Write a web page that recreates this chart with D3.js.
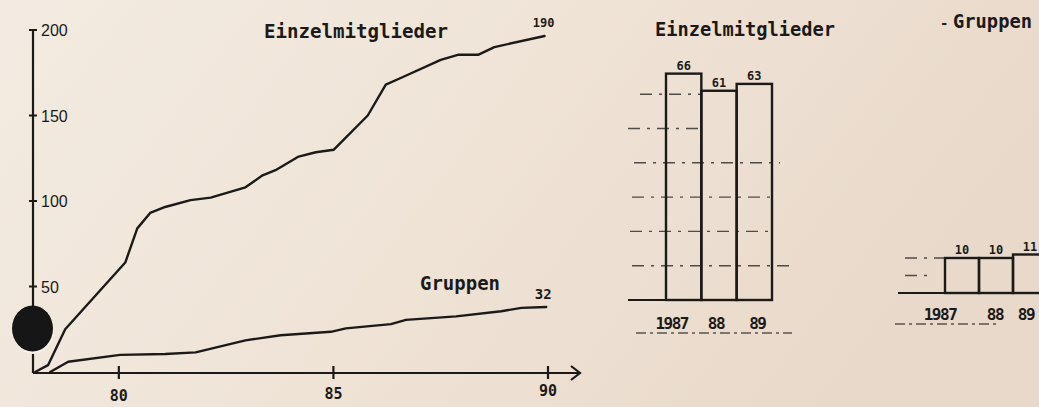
<!DOCTYPE html>
<html>
<head>
<meta charset="utf-8">
<script src="https://cdn.jsdelivr.net/npm/d3@7"></script>
<style>
  html, body { margin: 0; padding: 0; overflow: hidden; }
  svg { display: block; }
</style>
</head>
<body>
<svg id="chart"></svg>
<script>
// ---------------- data ----------------
// line chart, x in years (78..90), y = members
var einzelYear = [78.05, 78.35, 78.75, 80.15, 80.43, 80.73, 81.08, 81.67, 82.14, 82.95, 83.35, 83.65, 84.19, 84.59, 85.01, 85.8, 86.22, 86.62, 87.5, 87.9, 88.37, 88.75, 89.92];
var einzelVal  = [0, 4, 25, 64, 84, 93, 96.5, 100.5, 102, 108, 115, 118, 126, 128.5, 130, 150, 168, 172.5, 182.5, 185.5, 185.5, 190, 196.5];
var gruppenYear = [78.4, 78.82, 80.03, 81.08, 81.79, 82.95, 83.77, 84.94, 85.29, 86.34, 86.69, 87.86, 88.91, 89.38, 89.96];
var gruppenVal  = [0, 6, 10, 10.5, 11.5, 18.5, 21.5, 23.5, 25.5, 28, 30.5, 32.5, 35.5, 37.5, 38];
var yTicks = [50, 100, 150, 200];
var xTicks = [80, 85, 90];
var xTickLabels = ["80", "85", "90"];
var endLabelEinzel = "190";
var endLabelGruppen = "32";

// bar charts
var barYears = ["1987", "88", "89"];
var barEinzel = [66, 61, 63];
var barGruppen = [10, 10, 11];
var gridEinzel = [10, 20, 30, 40, 50, 60];
var gridGruppen = [5, 10];

// ---------------- setup ----------------
var W = 1039, H = 407;
var ink = "#1b1a19";
var mono = "'DejaVu Sans Mono', 'Liberation Mono', monospace";

var svg = d3.select("#chart").attr("width", W).attr("height", H);

// paper
var defs = svg.append("defs");
var grad = defs.append("linearGradient").attr("id", "paper")
  .attr("x1", 0).attr("y1", 0).attr("x2", 1).attr("y2", 0.3);
grad.append("stop").attr("offset", "0%").attr("stop-color", "#f3ebe1");
grad.append("stop").attr("offset", "55%").attr("stop-color", "#efe3d6");
grad.append("stop").attr("offset", "100%").attr("stop-color", "#e9d9ca");
svg.append("rect").attr("width", W).attr("height", H).attr("fill", "url(#paper)");

//**************************************** line chart
var x = d3.scaleLinear().domain([78, 90]).range([33, 548]);
var y = d3.scaleLinear().domain([0, 200]).range([372, 30]);

var lc = svg.append("g").attr("class", "linechart");

// y axis (hand drawn style)
lc.append("line")
  .attr("x1", x(78)).attr("x2", x(78))
  .attr("y1", y(200) - 1).attr("y2", y(0) + 1)
  .attr("stroke", ink).attr("stroke-width", 2.2);
lc.selectAll(".ytick").data(yTicks).enter().append("line")
  .attr("x1", x(78) - 4).attr("x2", x(78) + 4)
  .attr("y1", d => y(d)).attr("y2", d => y(d))
  .attr("stroke", ink).attr("stroke-width", 2);
lc.selectAll(".ylab").data(yTicks).enter().append("text")
  .attr("x", x(78) + 8).attr("y", d => y(d) + 6)
  .text(d => d)
  .attr("fill", ink)
  .style("font-family", "'Liberation Sans', Arial, sans-serif")
  .style("font-size", "16px");

// x axis with arrow
lc.append("line")
  .attr("x1", x(78)).attr("x2", 579)
  .attr("y1", y(0) + 1).attr("y2", y(0) + 1)
  .attr("stroke", ink).attr("stroke-width", 2.2);
lc.append("path")
  .attr("d", `M571,${y(0) - 6} L580,${y(0) + 1} L571,${y(0) + 8}`)
  .attr("fill", "none").attr("stroke", ink).attr("stroke-width", 2.2);
lc.selectAll(".xtick").data(xTicks).enter().append("line")
  .attr("x1", d => x(d)).attr("x2", d => x(d))
  .attr("y1", y(0) - 6).attr("y2", y(0) + 7)
  .attr("stroke", ink).attr("stroke-width", 2.2);
lc.selectAll(".xlab").data(xTicks).enter().append("text")
  .attr("x", d => x(d)).attr("y", (d, i) => [401, 399, 396][i])
  .attr("text-anchor", "middle")
  .text((d, i) => xTickLabels[i])
  .attr("fill", ink)
  .style("font-family", mono)
  .style("font-weight", "bold")
  .style("font-size", "15px");

// curves
var line = d3.line().x(d => x(d[0])).y(d => y(d[1]));
var einzelPts = einzelYear.map((d, i) => [d, einzelVal[i]]);
var gruppenPts = gruppenYear.map((d, i) => [d, gruppenVal[i]]);
lc.append("path").attr("d", line(einzelPts))
  .attr("fill", "none").attr("stroke", ink).attr("stroke-width", 2.4)
  .attr("stroke-linejoin", "round").attr("stroke-linecap", "round");
lc.append("path").attr("d", line(gruppenPts))
  .attr("fill", "none").attr("stroke", ink).attr("stroke-width", 2.4)
  .attr("stroke-linejoin", "round").attr("stroke-linecap", "round");

// labels
lc.append("text").attr("x", 264).attr("y", 38)
  .text("Einzelmitglieder")
  .attr("textLength", 184).attr("lengthAdjust", "spacingAndGlyphs")
  .attr("fill", ink)
  .style("font-family", mono).style("font-weight", "bold").style("font-size", "19px");
lc.append("text").attr("x", 420).attr("y", 290)
  .text("Gruppen")
  .attr("textLength", 80).attr("lengthAdjust", "spacingAndGlyphs")
  .attr("fill", ink)
  .style("font-family", mono).style("font-weight", "bold").style("font-size", "19px");
lc.append("text").attr("x", x(einzelYear[einzelYear.length - 1]) - 1).attr("y", 27)
  .attr("text-anchor", "middle")
  .text(endLabelEinzel)
  .attr("fill", ink)
  .style("font-family", mono).style("font-weight", "bold").style("font-size", "12px");
lc.append("text").attr("x", x(gruppenYear[gruppenYear.length - 1]) - 3).attr("y", 299)
  .attr("text-anchor", "middle")
  .text(endLabelGruppen)
  .attr("fill", ink)
  .style("font-family", mono).style("font-weight", "bold").style("font-size", "14px");

// punched hole
lc.append("ellipse").attr("cx", 33).attr("cy", 330).attr("rx", 21).attr("ry", 24)
  .attr("fill", "#f6f1e8");
lc.append("ellipse").attr("cx", 32.5).attr("cy", 328.5).attr("rx", 20.5).attr("ry", 23)
  .attr("fill", "#161616");

//**************************************** bar chart helper
function barChart(opts) {
  var g = svg.append("g");
  var xb = d3.scaleBand().domain(barYears).range(opts.xRange).padding(0);
  var yb = d3.scaleLinear().domain([0, 10]).range([opts.y0, opts.y0 - opts.per10]);

  // dashed grid
  g.selectAll(".grid").data(opts.grid).enter().append("line")
    .attr("x1", (d, i) => opts.gridX[i][0]).attr("x2", (d, i) => opts.gridX[i][1])
    .attr("y1", d => yb(d)).attr("y2", d => yb(d))
    .attr("stroke", ink).attr("stroke-opacity", 0.75).attr("stroke-width", 1.4)
    .attr("stroke-dasharray", "12 7 3 7");

  // baseline
  g.append("line")
    .attr("x1", opts.baseX[0]).attr("x2", opts.baseX[1])
    .attr("y1", yb(0)).attr("y2", yb(0))
    .attr("stroke", ink).attr("stroke-width", 2);

  // bars
  g.selectAll(".bar").data(opts.values).enter().append("rect")
    .attr("x", (d, i) => xb(barYears[i]))
    .attr("y", d => yb(d))
    .attr("width", xb.bandwidth())
    .attr("height", d => yb(0) - yb(d))
    .attr("fill", "none").attr("stroke", ink).attr("stroke-width", 2.4);

  // value labels
  g.selectAll(".val").data(opts.values).enter().append("text")
    .attr("x", (d, i) => xb(barYears[i]) + xb.bandwidth() / 2)
    .attr("y", d => yb(d) - 4)
    .attr("text-anchor", "middle")
    .text(d => d)
    .attr("fill", ink)
    .style("font-family", mono).style("font-weight", "bold").style("font-size", "12px");

  // category labels
  g.selectAll(".cat").data(barYears).enter().append("text")
    .attr("x", (d, i) => xb(d) + xb.bandwidth() / 2 + opts.catDx[i])
    .attr("y", opts.catY)
    .attr("text-anchor", "middle")
    .text(d => d)
    .attr("fill", ink)
    .style("font-family", mono).style("font-weight", "bold").style("font-size", "16px")
    .style("letter-spacing", "-1.5px");

  // dashed underline
  g.append("line")
    .attr("x1", opts.underX[0]).attr("x2", opts.underX[1])
    .attr("y1", opts.catY + 4).attr("y2", opts.catY + 4)
    .attr("stroke", ink).attr("stroke-opacity", 0.7).attr("stroke-width", 1.3)
    .attr("stroke-dasharray", "10 4 3 4");

  // title
  g.append("text").attr("x", opts.titleX).attr("y", opts.titleY)
    .text(opts.title)
    .attr("textLength", opts.titleLen).attr("lengthAdjust", "spacingAndGlyphs")
    .attr("fill", ink)
    .style("font-family", mono).style("font-weight", "bold").style("font-size", "19px");
  return g;
}

barChart({
  values: barEinzel, grid: gridEinzel,
  gridX: [[632, 790], [630, 772], [632, 772], [634, 780], [628, 700], [640, 700]],
  xRange: [666, 772], y0: 300, per10: 34.3,
  baseX: [628, 772], catY: 329, catDx: [-12, -3, 3], underX: [636, 792],
  title: "Einzelmitglieder", titleX: 655, titleY: 36, titleLen: 180
});

var gr = barChart({
  values: barGruppen, grid: gridGruppen,
  gridX: [[905, 930], [905, 946]],
  xRange: [945, 1047], y0: 293, per10: 35,
  baseX: [898, 1039], catY: 320, catDx: [-22, -1, -4], underX: [895, 1000],
  title: "Gruppen", titleX: 953, titleY: 28, titleLen: 79
});
gr.append("text").attr("x", 940).attr("y", 28).text("-")
  .attr("fill", ink).style("font-family", mono).style("font-weight", "bold").style("font-size", "14px");
</script>
</body>
</html>
